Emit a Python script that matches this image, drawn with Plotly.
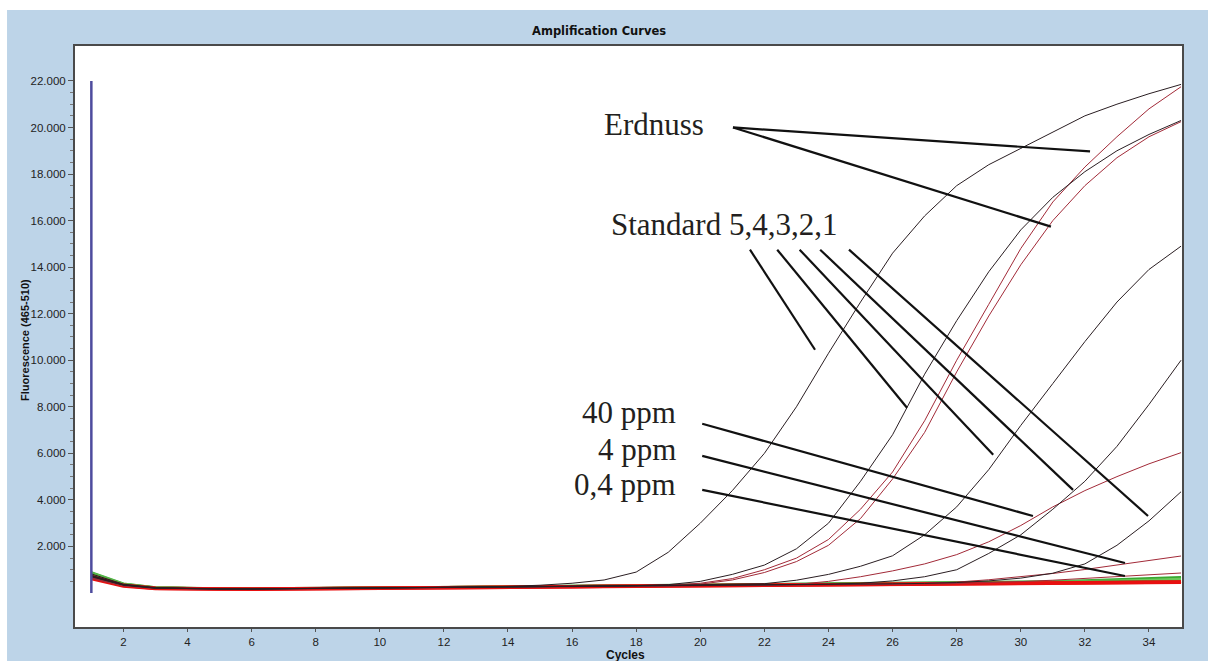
import plotly.graph_objects as go

# ---- data: fluorescence (465-510) per PCR cycle ----
cycles = list(range(1, 36))

std5 = [820, 380, 235, 200, 185, 182, 190, 200, 205, 212, 222, 238, 255, 285, 335, 420, 560, 900,
        1750, 3000, 4400, 6000, 8000, 10300, 12500, 14600, 16200, 17500, 18400, 19100, 19800,
        20500, 21000, 21450, 21850]
std4 = [760, 350, 215, 185, 172, 172, 182, 192, 198, 205, 212, 225, 235, 250, 265, 280, 295, 320,
        360, 500, 800, 1200, 1900, 3000, 4800, 6800, 9400, 11700, 13800, 15600, 17000, 18100,
        19000, 19700, 20300]
std3 = [700, 340, 210, 185, 175, 175, 185, 195, 200, 210, 220, 230, 245, 260, 275, 290, 305, 320,
        335, 350, 370, 400, 550, 800, 1150, 1600, 2500, 3700, 5300, 7200, 9000, 10800, 12500,
        13900, 14900]
std2 = [740, 355, 218, 188, 176, 176, 186, 196, 202, 210, 218, 228, 240, 252, 265, 278, 290, 302,
        315, 328, 340, 352, 365, 380, 420, 520, 700, 1000, 1700, 2500, 3600, 4800, 6300, 8100,
        10000]
std1 = [720, 345, 212, 186, 174, 174, 184, 194, 200, 207, 215, 225, 236, 248, 260, 272, 284, 296,
        308, 320, 332, 344, 356, 368, 380, 395, 415, 450, 520, 640, 850, 1250, 2050, 3100, 4350]

erdnuss_a = [650, 320, 205, 180, 170, 170, 180, 190, 195, 200, 210, 220, 230, 245, 260, 275, 290,
             310, 340, 420, 620, 1000, 1500, 2300, 3600, 5200, 7400, 10000, 12400, 14800, 16800,
             18300, 19600, 20800, 21750]
erdnuss_b = [630, 310, 200, 178, 168, 168, 178, 188, 193, 198, 206, 216, 226, 240, 255, 270, 285,
             300, 325, 380, 560, 880, 1350, 2050, 3200, 4900, 6900, 9500, 11900, 14100, 16000,
             17500, 18700, 19600, 20250]

ppm_40 = [680, 330, 208, 182, 172, 172, 182, 192, 197, 203, 211, 221, 232, 244, 256, 268, 280, 292,
          304, 316, 328, 340, 370, 500, 700, 950, 1250, 1650, 2200, 2900, 3700, 4400, 5000, 5550,
          6030]
ppm_4 = [660, 325, 206, 181, 171, 171, 181, 191, 196, 202, 210, 220, 231, 243, 255, 267, 279, 291,
         303, 315, 327, 339, 350, 360, 370, 385, 410, 470, 570, 690, 840, 1010, 1200, 1400, 1590]
ppm_04 = [640, 318, 204, 180, 170, 170, 180, 190, 195, 201, 209, 219, 230, 242, 254, 266, 278, 290,
          302, 314, 326, 338, 349, 360, 370, 380, 392, 410, 445, 490, 550, 620, 700, 780, 860]

neg_green = [
    [880, 400, 240, 205, 190, 190, 198, 206, 210, 216, 226, 240, 256, 272, 290, 306, 320, 334, 346,
     358, 370, 382, 394, 405, 416, 428, 440, 452, 466, 480, 500, 540, 580, 620, 680],
    [850, 390, 232, 200, 186, 186, 194, 202, 206, 212, 222, 236, 252, 268, 284, 300, 314, 328, 340,
     352, 364, 376, 388, 398, 408, 418, 428, 438, 448, 460, 475, 500, 530, 560, 600],
    [820, 380, 228, 198, 184, 184, 192, 200, 204, 210, 220, 232, 246, 262, 278, 292, 306, 318, 330,
     342, 354, 366, 376, 386, 396, 406, 416, 426, 436, 446, 456, 468, 480, 495, 510],
    [800, 372, 225, 196, 182, 182, 190, 198, 202, 208, 218, 230, 244, 258, 272, 286, 298, 310, 322,
     334, 346, 356, 366, 376, 386, 395, 404, 413, 422, 431, 440, 448, 456, 465, 475],
    [780, 365, 222, 194, 180, 180, 188, 196, 200, 206, 214, 226, 240, 254, 268, 280, 292, 304, 316,
     326, 336, 346, 356, 366, 375, 384, 393, 402, 410, 418, 426, 434, 440, 446, 452],
]
neg_olive = [760, 360, 220, 190, 178, 178, 186, 194, 198, 204, 214, 226, 240, 254, 268, 282, 294,
             306, 318, 330, 342, 352, 362, 372, 382, 392, 402, 412, 422, 432, 442, 452, 462, 472,
             482]
neg_red = [
    [700, 330, 205, 178, 168, 168, 176, 184, 188, 194, 204, 216, 230, 244, 258, 272, 286, 298, 310,
     322, 334, 346, 356, 366, 376, 386, 396, 406, 416, 426, 436, 446, 456, 466, 476],
    [620, 300, 195, 172, 162, 162, 170, 178, 182, 188, 198, 210, 224, 238, 252, 266, 278, 290, 302,
     314, 326, 336, 346, 356, 366, 376, 386, 396, 406, 416, 426, 436, 446, 456, 466],
]

marker_cycle = [1, 1]
marker_range = [0, 22000]

y_ticks = [2000, 4000, 6000, 8000, 10000, 12000, 14000, 16000, 18000, 20000, 22000]
y_ticktext = ["2.000", "4.000", "6.000", "8.000", "10.000", "12.000", "14.000", "16.000",
              "18.000", "20.000", "22.000"]
x_ticks = list(range(2, 35, 2))

# ---- colours ----
BLUE_BG = "#BDD4E8"
STD_COLOR = "#2a1e22"
SAMPLE_COLOR = "#a22a38"
GREEN_SHADES = ["#3aa832", "#6cc85a", "#2e9428", "#8ad674", "#4cb83c"]
OLIVE = "#8c8a28"
NEG_RED = "#e81010"

fig = go.Figure()

for i, g in enumerate(neg_green):
    fig.add_trace(go.Scatter(x=cycles, y=g, mode="lines",
                             line=dict(color=GREEN_SHADES[i], width=2.5)))
fig.add_trace(go.Scatter(x=cycles, y=neg_olive, mode="lines",
                         line=dict(color=OLIVE, width=2.5)))
for r in neg_red:
    fig.add_trace(go.Scatter(x=cycles, y=r, mode="lines",
                             line=dict(color=NEG_RED, width=3.5)))
for s in [ppm_04, ppm_4, ppm_40, erdnuss_b, erdnuss_a]:
    fig.add_trace(go.Scatter(x=cycles, y=s, mode="lines",
                             line=dict(color=SAMPLE_COLOR, width=1)))
for s in [std1, std2, std3, std4, std5]:
    fig.add_trace(go.Scatter(x=cycles, y=s, mode="lines",
                             line=dict(color=STD_COLOR, width=1)))

fig.add_trace(go.Scatter(x=marker_cycle, y=marker_range, mode="lines",
                         line=dict(color="#4e4c9e", width=2.5)))

# ---- pointer lines from the labels to the curves ----
pointers = [
    # Erdnuss
    (21.02, 20000, 32.16, 18970),
    (21.02, 20000, 30.94, 15740),
    # Standard 5,4,3,2,1
    (21.55, 14750, 23.58, 10450),
    (22.40, 14750, 26.45, 7960),
    (23.10, 14750, 29.14, 5940),
    (23.74, 14750, 31.63, 4430),
    (24.64, 14750, 33.97, 3310),
    # 40 ppm / 4 ppm / 0,4 ppm
    (20.06, 7270, 30.38, 3310),
    (20.06, 5890, 33.25, 1290),
    (20.06, 4430, 33.25, 730),
]
shapes = []
# page background: blue panel with a thin white margin at top and left
shapes.append(dict(type="rect", xref="paper", yref="paper", x0=-0.08, x1=1.04,
                   y0=1.062, y1=1.09, fillcolor="white", line=dict(width=0), layer="below"))
shapes.append(dict(type="rect", xref="paper", yref="paper", x0=-0.08, x1=-0.0614,
                   y0=-0.07, y1=1.09, fillcolor="white", line=dict(width=0), layer="below"))
for x0, y0, x1, y1 in pointers:
    shapes.append(dict(type="line", xref="x", yref="y", x0=x0, y0=y0, x1=x1, y1=y1,
                       line=dict(color="#111111", width=2.2)))

label_font = dict(family="Liberation Serif, Times New Roman, serif", size=31, color="#231f20")
annotations = [
    dict(x=18.56, y=20108, xref="x", yref="y", text="Erdnuss", showarrow=False,
         xanchor="center", yanchor="middle", font=label_font),
    dict(x=20.73, y=15850, xref="x", yref="y", text="Standard 5,4,3,2,1", showarrow=False,
         xanchor="center", yanchor="middle", font=label_font),
    dict(x=19.31, y=7763, xref="x", yref="y", text="40 ppm", showarrow=False,
         xanchor="right", yanchor="middle", font=label_font),
    dict(x=19.31, y=6172, xref="x", yref="y", text="4 ppm", showarrow=False,
         xanchor="right", yanchor="middle", font=label_font),
    dict(x=19.31, y=4667, xref="x", yref="y", text="0,4 ppm", showarrow=False,
         xanchor="right", yanchor="middle", font=label_font),
    dict(x=0.4977, y=-0.0475, xref="paper", yref="paper", text="Cycles", showarrow=False,
         xanchor="center", yanchor="middle",
         font=dict(family="Liberation Sans Narrow, Arial Narrow, sans-serif", size=12,
                   color="#111111", weight="bold")),
    dict(x=-0.0452, y=0.494, xref="paper", yref="paper", text="Fluorescence (465-510)",
         showarrow=False, textangle=-90, xanchor="center", yanchor="middle",
         font=dict(family="Liberation Sans, Arial, sans-serif", size=11, color="#111111",
                   weight="bold")),
]

fig.update_layout(
    width=1208, height=661,
    margin=dict(l=75, r=26, t=46, b=34),
    paper_bgcolor=BLUE_BG,
    plot_bgcolor="white",
    showlegend=False,
    title=dict(text="Amplification Curves", x=0.4734, xref="paper", xanchor="center",
               y=0.953, yref="container", yanchor="middle",
               font=dict(family="DejaVu Sans, Verdana, sans-serif", size=11.5, color="#111111",
                         weight="bold")),
    shapes=shapes,
    annotations=annotations,
)
fig.update_xaxes(range=[0.49, 35.03], tickvals=x_ticks, ticks="outside", ticklen=3,
                 tickcolor="#555555", showgrid=False, zeroline=False, showline=True,
                 mirror=True, linecolor="#4a4a4a", linewidth=2,
                 tickfont=dict(family="Liberation Sans Narrow, Arial Narrow, sans-serif",
                               size=11.5, color="#222222"))
fig.update_yaxes(range=[-1460, 23500], tickvals=y_ticks, ticktext=y_ticktext, ticks="outside",
                 ticklen=5, tickcolor="#555555", showgrid=False, zeroline=False, showline=True,
                 mirror=True, linecolor="#4a4a4a", linewidth=2,
                 minor=dict(tickvals=[v for v in range(500, 22000, 500) if v % 2000 != 0],
                            ticks="outside", ticklen=3, tickcolor="#777777"),
                 tickfont=dict(family="Liberation Sans, Arial, sans-serif", size=11.5,
                               color="#222222"))

fig.write_html("out.html")
